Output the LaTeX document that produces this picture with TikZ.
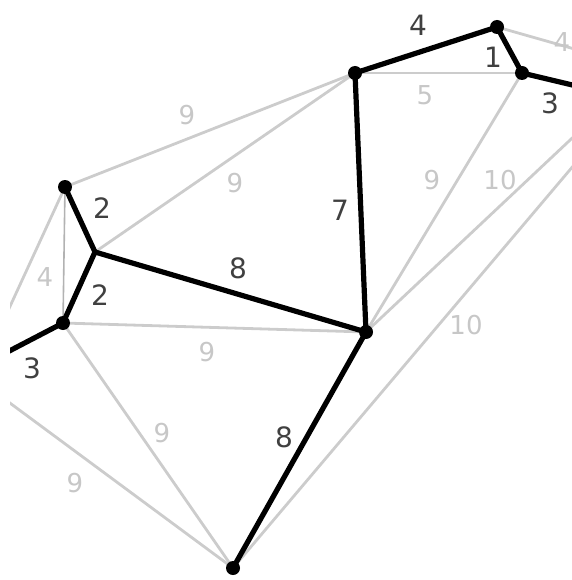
\documentclass[tikz,border=0pt]{standalone}
\usepackage{fontspec}
\setmainfont{DejaVu Sans}
\begin{document}
\begin{tikzpicture}[x=1pt,y=-1pt,
 heavy/.style={line width=5.2pt, black, line cap=round},
 light/.style={line width=2.8pt, black!20},
 hair/.style={line width=1.6pt, black!30},
 vtx/.style={circle, fill=black, inner sep=0pt, minimum size=14pt},
 wb/.style={font=\fontsize{28}{28}\selectfont, text=black!75, inner sep=0pt},
 wg/.style={font=\fontsize{26}{26}\selectfont, text=black!22, inner sep=0pt}]
\useasboundingbox (0,0) rectangle (571,580);
% vertices
\coordinate (A) at (65,187);
\coordinate (B) at (95,252);
\coordinate (C) at (63,323);
\coordinate (D) at (366,332);
\coordinate (E) at (355,73);
\coordinate (F) at (497,27);
\coordinate (G) at (522,73);
\coordinate (H) at (233,568);
% free ends
\coordinate (Lc) at (-8,360);
\coordinate (Rg) at (585,88);
\coordinate (La) at (-5,339);
\coordinate (Lh) at (-5,392);
\coordinate (Rf) at (585,52);
\coordinate (Rd) at (585,126);
\coordinate (Rh) at (585,152);
\begin{scope}
\clip (10,0) rectangle (600,600);
% light edges
\draw[light] (A) -- (E);
\draw[light] (B) -- (E);
\draw[light] (La) -- (A);
\draw[hair] (A) -- (C);
\draw[light] (C) -- (D);
\draw[light] (C) -- (H);
\draw[light] (Lh) -- (H);
\draw[light] (E) -- (G);
\draw[light] (D) -- (G);
\draw[light] (D) -- (Rd);
\draw[light] (H) -- (Rh);
\draw[light] (F) -- (Rf);
% heavy edges
\draw[heavy] (A) -- (B);
\draw[heavy] (B) -- (C);
\draw[heavy] (C) -- (Lc);
\draw[heavy] (B) -- (D);
\draw[heavy] (D) -- (E);
\draw[heavy] (D) -- (H);
\draw[heavy] (E) -- (F);
\draw[heavy] (F) -- (G);
\draw[heavy] (G) -- (Rg);
\end{scope}
% dots
\foreach \v in {A,C,D,E,F,G,H} \node[vtx] (n\v) at (\v) {};
% heavy labels
\node[wb] (w1) at (102,208) {2};
\node[wb] (w2) at (100,295) {2};
\node[wb] (w3) at (32,368) {3};
\node[wb] (w4) at (238,268) {8};
\node[wb] (w5) at (340,210) {7};
\node[wb] (w6) at (284,437) {8};
\node[wb] (w7) at (418,25) {4};
\node[wb] (w8) at (493,57) {1};
\node[wb] (w9) at (550,103) {3};
% light labels
\node[wg] (g1) at (187,115) {9};
\node[wg] (g2) at (235,183) {9};
\node[wg] (g3) at (45,277) {4};
\node[wg] (g4) at (207,352) {9};
\node[wg] (g5) at (162,433) {9};
\node[wg] (g6) at (75,483) {9};
\node[wg] (g7) at (425,95) {5};
\node[wg] (g8) at (432,180) {9};
\node[wg] (g9) at (500,180) {10};
\node[wg] (g10) at (466,325) {10};
\node[wg] (g11) at (562,42) {4};
\end{tikzpicture}
\end{document}
